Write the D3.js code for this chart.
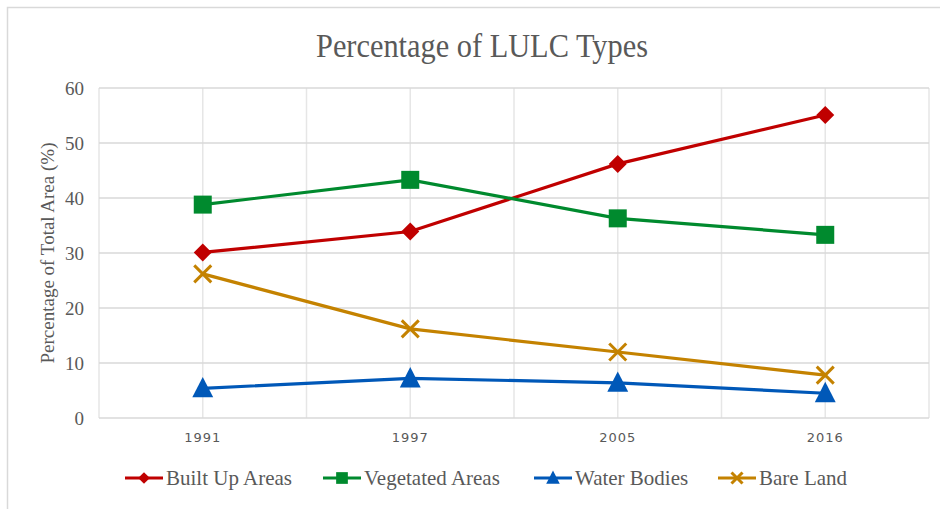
<!DOCTYPE html>
<html>
<head>
<meta charset="utf-8">
<script src="https://cdn.jsdelivr.net/npm/d3@7"></script>
<style>
    body { margin: 0; background: #fff; }
    svg { display: block; }
</style>
</head>
<body>
<div id="chart"></div>
<script>
const years = ['1991', '1997', '2005', '2016'];
const builtUp = [30.1, 33.9, 46.2, 55.1];
const vegetated = [38.8, 43.3, 36.3, 33.3];
const water = [5.4, 7.2, 6.4, 4.5];
const bareLand = [26.2, 16.2, 12.0, 7.8];
const yTicks = [0, 10, 20, 30, 40, 50, 60];

const series = [
    {name: 'Built Up Areas', values: builtUp, color: '#c00000', symbol: 'diamond'},
    {name: 'Vegetated Areas', values: vegetated, color: '#008a2e', symbol: 'square'},
    {name: 'Water Bodies', values: water, color: '#0058b8', symbol: 'triangle'},
    {name: 'Bare Land', values: bareLand, color: '#c48200', symbol: 'cross'}
];

const width = 940, height = 509;
const margin = {top: 88, right: 11, bottom: 91, left: 99};

const svg = d3.select('#chart').append('svg')
    .attr('width', width)
    .attr('height', height);

// chart border
svg.append('rect')
    .attr('x', 7.5).attr('y', 7.5)
    .attr('width', 940).attr('height', 520)
    .attr('fill', 'none')
    .attr('stroke', '#d9d9d9')
    .attr('stroke-width', 1.5);

const x = d3.scaleBand()
    .domain(years)
    .range([margin.left, width - margin.right])
    .padding(0);

const y = d3.scaleLinear()
    .domain([0, 60])
    .range([height - margin.bottom, margin.top]);

const cx = function (d) { return x(d) + x.bandwidth() / 2; };

// vertical gridlines at band edges and centers
const vLines = [];
years.forEach(function (d) {
    vLines.push(x(d));
    vLines.push(cx(d));
});
vLines.push(x(years[years.length - 1]) + x.bandwidth());

svg.append('g')
    .selectAll('line')
    .data(vLines)
    .enter()
    .append('line')
    .attr('x1', function (d) { return d; })
    .attr('x2', function (d) { return d; })
    .attr('y1', y(60))
    .attr('y2', y(0))
    .attr('stroke', '#e6e6e6')
    .attr('stroke-width', 1.5);

// horizontal gridlines
svg.append('g')
    .selectAll('line')
    .data(yTicks)
    .enter()
    .append('line')
    .attr('x1', margin.left)
    .attr('x2', width - margin.right)
    .attr('y1', function (d) { return y(d); })
    .attr('y2', function (d) { return y(d); })
    .attr('stroke', '#d9d9d9')
    .attr('stroke-width', 1.5);

// y tick labels
svg.append('g')
    .style('font', '19px "Liberation Serif", "Times New Roman", serif')
    .attr('fill', '#595959')
    .selectAll('text')
    .data(yTicks)
    .enter()
    .append('text')
    .attr('x', 84)
    .attr('y', function (d) { return y(d); })
    .attr('dy', '0.35em')
    .attr('text-anchor', 'end')
    .text(function (d) { return d; });

// x tick labels
svg.append('g')
    .style('font', '13px "DejaVu Sans", sans-serif')
    .style('letter-spacing', '1px')
    .attr('fill', '#595959')
    .selectAll('text')
    .data(years)
    .enter()
    .append('text')
    .attr('x', function (d) { return cx(d); })
    .attr('y', 442)
    .attr('text-anchor', 'middle')
    .text(function (d) { return d; });

// title
svg.append('text')
    .attr('x', 482)
    .attr('y', 57)
    .attr('text-anchor', 'middle')
    .style('font', '33px "Liberation Serif", "Times New Roman", serif')
    .attr('fill', '#595959')
    .attr('textLength', 332)
    .attr('lengthAdjust', 'spacingAndGlyphs')
    .text('Percentage of LULC Types');

// y axis title
svg.append('text')
    .attr('transform', 'translate(54,' + y(30) + ') rotate(-90)')
    .attr('text-anchor', 'middle')
    .style('font', '19px "Liberation Serif", "Times New Roman", serif')
    .attr('fill', '#595959')
    .text('Percentage of Total Area (%)');

function marker(sel, s, size) {
    if (s.symbol === 'cross') {
        const h = size;
        sel.append('path')
            .attr('d', `M${-h},${-h}L${h},${h}M${-h},${h}L${h},${-h}`)
            .attr('stroke', s.color)
            .attr('stroke-width', 3)
            .attr('fill', 'none');
    } else if (s.symbol === 'diamond') {
        sel.append('path')
            .attr('d', `M0,${-size}L${size},0L0,${size}L${-size},0Z`)
            .attr('fill', s.color);
    } else if (s.symbol === 'square') {
        sel.append('rect')
            .attr('x', -size).attr('y', -size)
            .attr('width', size * 2).attr('height', size * 2)
            .attr('fill', s.color);
    } else {
        sel.append('path')
            .attr('d', `M0,${-size * 1.2}L${size * 1.1},${size * 0.95}L${-size * 1.1},${size * 0.95}Z`)
            .attr('fill', s.color);
    }
}

const markerSize = {diamond: 9, square: 9, triangle: 9.5, cross: 8.5};

const line = d3.line()
    .x(function (d, i) { return cx(years[i]); })
    .y(function (d) { return y(d); });

series.forEach(function (s) {
    const g = svg.append('g');
    g.append('path')
        .datum(s.values)
        .attr('d', line)
        .attr('fill', 'none')
        .attr('stroke', s.color)
        .attr('stroke-width', 3.2);

    g.selectAll('g.pt')
        .data(s.values)
        .enter()
        .append('g')
        .attr('class', 'pt')
        .attr('transform', function (d, i) { return `translate(${cx(years[i])},${y(d)})`; })
        .each(function () { marker(d3.select(this), s, markerSize[s.symbol]); });
});

// legend
const legendX = [125, 323, 534, 718];
const legend = svg.append('g')
    .selectAll('g')
    .data(series)
    .enter()
    .append('g')
    .attr('transform', function (d, i) { return `translate(${legendX[i]},478)`; });

legend.append('line')
    .attr('x1', 0).attr('x2', 38)
    .attr('stroke', function (d) { return d.color; })
    .attr('stroke-width', 3.2);

legend.append('g')
    .attr('transform', 'translate(19,0)')
    .each(function (d) { marker(d3.select(this), d, markerSize[d.symbol] * 0.65); });

legend.append('text')
    .attr('x', 41)
    .attr('dy', '0.35em')
    .style('font', '21px "Liberation Serif", "Times New Roman", serif')
    .attr('fill', '#595959')
    .text(function (d) { return d.name; });
</script>
</body>
</html>
